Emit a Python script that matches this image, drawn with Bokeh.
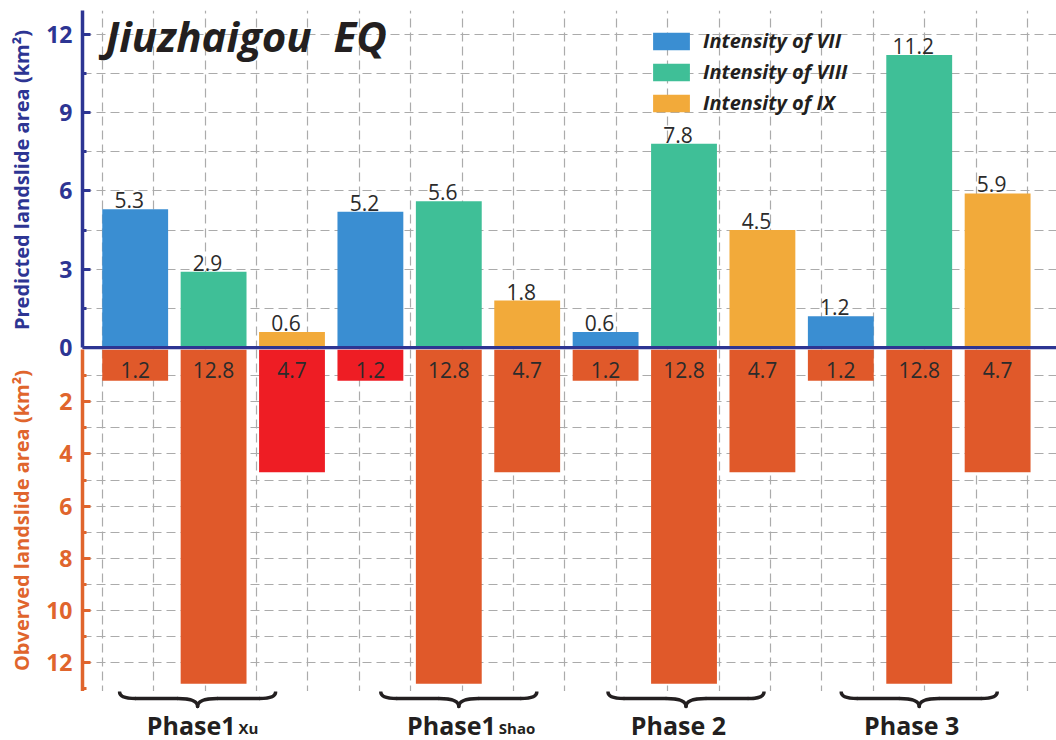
from bokeh.plotting import figure
from bokeh.models import (Range1d, LinearAxis, FixedTicker, Grid, Span, Label,
                          ColumnDataSource, Legend, LegendItem)
from bokeh.layouts import column
from bokeh.embed import file_html
from bokeh.resources import INLINE
from bokeh.core.properties import value

# ---------------- data ----------------
phase_main = ["Phase1", "Phase1", "Phase 2", "Phase 3"]
phase_sub = ["Xu", "Shao", "", ""]
intensities = ["Intensity of VII", "Intensity of VIII", "Intensity of IX"]
pred_vii = [5.3, 5.2, 0.6, 1.2]
pred_viii = [2.9, 5.6, 7.8, 11.2]
pred_ix = [0.6, 1.8, 4.5, 5.9]
obs_vii = [1.2, 1.2, 1.2, 1.2]
obs_viii = [12.8, 12.8, 12.8, 12.8]
obs_ix = [4.7, 4.7, 4.7, 4.7]
highlight = [(0, 2), (1, 0)]          # (phase, intensity) observed bars shown in red
top_ticks = [0, 3, 6, 9, 12]
top_minor = [1.5, 4.5, 7.5, 10.5]
bottom_ticks = [2, 4, 6, 8, 10, 12]
bottom_minor = [1, 3, 5, 7, 9, 11, 13]

# ---------------- style ----------------
FONT = "Open Sans"
NAVY = "#2D3593"
ORANGE_AX = "#E0652D"
PRED_COLORS = ["#3A8ED2", "#3FBF97", "#F2AA3A"]
OBS_COLOR = "#E0592A"
RED = "#EE1D24"
TXT = "#2B2B2B"
GRID_C = "#ABABAB"
W = 1056
LEFT = 82
X0, X1 = 0.328, 12.751
PX = (W - LEFT) / (X1 - X0)            # pixels per x unit
BAR_W = 0.84
OVERLAP = 14                           # px the observed panel slides under the predicted one

pred = [pred_vii, pred_viii, pred_ix]
obs = [obs_vii, obs_viii, obs_ix]
n_ph = len(phase_main)
xpos = lambda g, i: 3 * g + i + 1

XR = Range1d(X0, X1)
vgrid = [X0 + (19.7 + 51.4 * k) / PX for k in range(19)]


def make_fig(h, yr, top=0, bottom=0):
    p = figure(width=W, height=h, x_range=XR, y_range=yr,
               x_axis_type=None, y_axis_type=None,
               toolbar_location=None, output_backend="svg",
               min_border_left=LEFT, min_border_right=0,
               min_border_top=top, min_border_bottom=bottom)
    p.outline_line_color = None
    p.background_fill_color = "white"
    p.border_fill_color = "white"
    return p


def add_grids(p, yticks):
    p.add_layout(Grid(dimension=0, ticker=FixedTicker(ticks=vgrid),
                      grid_line_color=GRID_C, grid_line_dash="9 5", grid_line_width=1.2))
    p.add_layout(Grid(dimension=1, ticker=FixedTicker(ticks=yticks),
                      grid_line_color=GRID_C, grid_line_dash="9 5", grid_line_width=1.2))


def style_axis(ax, color):
    ax.axis_line_color = color
    ax.axis_line_width = 3.5
    ax.major_tick_in = 8
    ax.major_tick_out = 0
    ax.major_tick_line_color = color
    ax.major_tick_line_width = 3
    ax.minor_tick_in = 4
    ax.minor_tick_out = 0
    ax.minor_tick_line_color = color
    ax.minor_tick_line_width = 3
    ax.major_label_text_color = color
    ax.major_label_text_font = FONT
    ax.major_label_text_font_style = "bold"
    ax.major_label_text_font_size = "23px"
    ax.major_label_standoff = 10
    ax.axis_label_text_color = color
    ax.axis_label_text_font = FONT
    ax.axis_label_text_font_style = "bold"
    ax.axis_label_text_font_size = "20px"
    ax.axis_label_standoff = 8


# ---------------- top: predicted ----------------
p1 = make_fig(349 + OVERLAP, Range1d(-0.07, 12.9), top=10, bottom=OVERLAP)
add_grids(p1, [1.5 * k for k in range(1, 9)])
ax1 = LinearAxis(ticker=FixedTicker(ticks=top_ticks, minor_ticks=top_minor),
                 bounds=(0, 12.9), axis_label="Predicted landslide area (km²)")
style_axis(ax1, NAVY)
p1.add_layout(ax1, "left")

items = []
for i, name in enumerate(intensities):
    src = ColumnDataSource(dict(x=[xpos(g, i) for g in range(n_ph)], top=pred[i]))
    r = p1.vbar(x="x", top="top", bottom=0, width=BAR_W, source=src,
                fill_color=PRED_COLORS[i], line_color=None)
    items.append(LegendItem(label=name, renderers=[r]))

lab_src = ColumnDataSource(dict(
    x=[xpos(g, i) for g in range(n_ph) for i in range(3)],
    y=[pred[i][g] for g in range(n_ph) for i in range(3)],
    t=["%.1f" % pred[i][g] for g in range(n_ph) for i in range(3)]))
p1.text(x="x", y="y", text="t", source=lab_src, text_font=value(FONT),
        text_font_size="21px", text_color=TXT, text_align="center",
        text_baseline="middle", x_offset=-6, y_offset=-9)

p1.add_layout(Span(location=0, dimension="width", line_color=NAVY, line_width=3.5))

legend = Legend(items=items, location=(566, 233), orientation="vertical",
                glyph_width=46, glyph_height=22, label_standoff=9, spacing=4,
                padding=0, margin=0, border_line_color=None, background_fill_alpha=0,
                label_text_font=FONT, label_text_font_style="bold italic",
                label_text_font_size="20px", label_text_color="#231F20")
p1.add_layout(legend)

p1.add_layout(Label(x=0.62, y=10.87, text="Jiuzhaigou\u00a0\u00a0EQ", text_font=FONT,
                    text_font_style="bold italic", text_font_size="42px",
                    text_baseline="bottom", text_color="#231F20"))

# ---------------- bottom: observed ----------------
p2 = make_fig(342, Range1d(13.1, 0))
p2.margin = (-OVERLAP, 0, 0, 0)
p2.background_fill_alpha = 0
p2.border_fill_alpha = 0
add_grids(p2, list(range(1, 13)))
ax2 = LinearAxis(ticker=FixedTicker(ticks=bottom_ticks, minor_ticks=bottom_minor),
                 axis_label="Obverved landslide area (km²)")
style_axis(ax2, ORANGE_AX)
p2.add_layout(ax2, "left")

obs_src = ColumnDataSource(dict(
    x=[xpos(g, i) for g in range(n_ph) for i in range(3)],
    top=[obs[i][g] for g in range(n_ph) for i in range(3)],
    c=[RED if (g, i) in highlight else OBS_COLOR for g in range(n_ph) for i in range(3)],
    t=["%.1f" % obs[i][g] for g in range(n_ph) for i in range(3)]))
p2.vbar(x="x", top="top", bottom=0, width=BAR_W, source=obs_src,
        fill_color="c", line_color=None)
p2.text(x="x", y=0.79, text="t", source=obs_src, text_font=value(FONT),
        text_font_size="21px", text_color=TXT, text_align="center",
        text_baseline="middle")

# ---------------- group braces and labels ----------------
p3 = make_fig(49, Range1d(49, 0))
brace_dx = [-16, 10, 2, 0]          # px shift of each brace from its group centre
main_right = [22, 47, 42, 40]       # px from group centre to right edge of main label
sub_left = [25, 50, 0, 0]
centers = [xpos(g, 1) for g in range(n_ph)]
hw, r_end, r_mid = 78 / PX, 16 / PX, 20 / PX
y_tip, y_flat, y_pt = 0.5, 7, 15
q = dict(x0=[], y0=[], x1=[], y1=[], cx=[], cy=[])
s = dict(x0=[], y0=[], x1=[], y1=[])
for g in range(n_ph):
    c = centers[g] + brace_dx[g] / PX
    L, R = c - hw, c + hw
    for (a, b, ctrl) in [((L, y_tip), (L + r_end, y_flat), (L, y_flat)),
                         ((c - r_mid, y_flat), (c, y_pt), (c, y_flat)),
                         ((c, y_pt), (c + r_mid, y_flat), (c, y_flat)),
                         ((R - r_end, y_flat), (R, y_tip), (R, y_flat))]:
        q["x0"].append(a[0]); q["y0"].append(a[1])
        q["x1"].append(b[0]); q["y1"].append(b[1])
        q["cx"].append(ctrl[0]); q["cy"].append(ctrl[1])
    for (a, b) in [(L + r_end, c - r_mid), (c + r_mid, R - r_end)]:
        s["x0"].append(a); s["y0"].append(y_flat)
        s["x1"].append(b); s["y1"].append(y_flat)
p3.quadratic(x0="x0", y0="y0", x1="x1", y1="y1", cx="cx", cy="cy",
             source=ColumnDataSource(q), line_color="#231F20", line_width=3.5,
             line_cap="round")
p3.segment(x0="x0", y0="y0", x1="x1", y1="y1", source=ColumnDataSource(s),
           line_color="#231F20", line_width=3.5, line_cap="round")

main_src = ColumnDataSource(dict(x=centers, t=phase_main, dx=main_right))
p3.text(x="x", y=33, text="t", source=main_src, x_offset="dx",
        text_font=value(FONT), text_font_style="bold", text_font_size="25px",
        text_color="#231F20", text_align="right", text_baseline="middle")
sub_idx = [g for g in range(n_ph) if phase_sub[g]]
sub_src = ColumnDataSource(dict(x=[centers[g] for g in sub_idx],
                                t=[phase_sub[g] for g in sub_idx],
                                dx=[sub_left[g] for g in sub_idx]))
p3.text(x="x", y=36, text="t", source=sub_src, x_offset="dx",
        text_font=value(FONT), text_font_style="bold", text_font_size="15px",
        text_color="#231F20", text_align="left", text_baseline="middle")

layout = column(p1, p2, p3, spacing=0)
open("out.html", "w").write(file_html(layout, INLINE))
